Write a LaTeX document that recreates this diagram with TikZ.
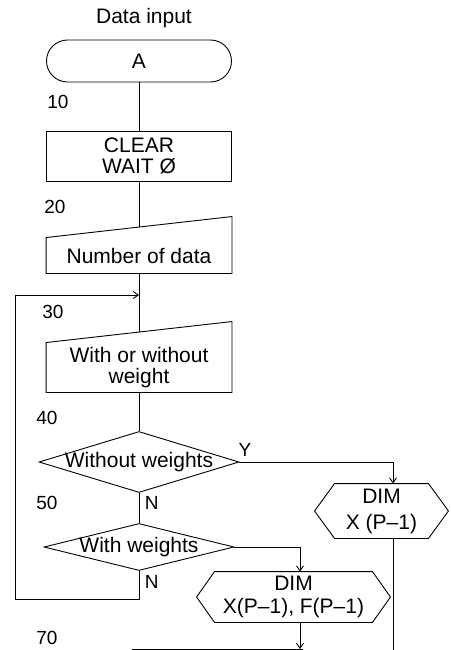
\documentclass[tikz,border=0pt]{standalone}
\usepackage{fontspec}
\setmainfont{Liberation Sans}
\usetikzlibrary{arrows.meta,positioning,shapes.geometric}

\begin{document}
\begin{tikzpicture}[x=1pt,y=-1pt,
  line width=0.9pt,
  font=\fontsize{21}{21}\selectfont,
  term/.style={draw,rounded corners=21pt,minimum width=185pt,minimum height=42pt,inner sep=0pt},
  proc/.style={draw,align=center,minimum width=185pt,minimum height=50pt,inner sep=0pt},
  manin/.style={align=center,minimum width=185pt,inner sep=0pt},
  dec/.style={draw,diamond,inner sep=0pt},
  hexa/.style={align=center,inner sep=0pt},
  lineno/.style={font=\fontsize{19}{19}\selectfont},
  >={Straight Barb[length=5pt,width=7pt]}]
  \useasboundingbox (0,0) rectangle (450,650);
  % main column
  \node (title) at (144,18) {Data input};
  \node[term] (start) at (139,61) {A};
  \node[proc] (clr) at (139,156) {CLEAR\\WAIT Ø};
  \node[manin,minimum height=35pt] (num) at (139,255.5) {Number of data};
  \node[manin,minimum height=49pt] (wow) at (139,367.5) {With or without\\weight};
  \node[dec,minimum width=200pt,minimum height=61pt,label=center:Without weights] (wo) at (139,462) {};
  \node[dec,minimum width=190pt,minimum height=47pt,label=center:With weights] (ww) at (139,547) {};
  % DIM branches
  \node[hexa,minimum width=133pt,minimum height=54pt] (d1) at (381.5,511) {DIM\\[5pt]X (P--1)};
  \node[hexa,minimum width=193pt,minimum height=50pt] (d2) at (293.5,597) {DIM\\[2pt]X(P--1), F(P--1)};
  \node[proc,minimum width=170pt,minimum height=40pt,anchor=north] (next) at (217,649) {};
  \foreach \m in {num,wow}
    \draw (\m.south west) -- (\m.south east) -- ([yshift=21pt]\m.north east) -- (\m.north west) -- cycle;
  \foreach \h/\c in {d1/20pt,d2/18pt}
    \draw (\h.west) -- ([xshift=\c]\h.north west) -- ([xshift=-\c]\h.north east) -- (\h.east)
      -- ([xshift=-\c]\h.south east) -- ([xshift=\c]\h.south west) -- cycle;
  % line numbers
  \node[lineno] (n10) at (58,102) {10};
  \node[lineno] (n20) at (55,207) {20};
  \node[lineno] (n30) at (53,312) {30};
  \node[lineno] (n40) at (47,418) {40};
  \node[lineno] (n50) at (47,503) {50};
  \node[lineno] (n70) at (47,638) {70};
  \node[lineno] (yes) at (245,450) {Y};
  \node[lineno,anchor=west] (no1) at (141,503) {N};
  \node[lineno,anchor=west] (no2) at (141,582) {N};
  % connectors
  \coordinate (join) at (139,295);
  \coordinate (loopc) at (15,599);
  \coordinate (d1end) at (393,660);
  \draw (start) -- (clr);
  \draw (clr) -- ([yshift=10.5pt]num.north);
  \draw (num) -- ([yshift=10.5pt]wow.north);
  \draw (wow) -- (wo);
  \draw (wo) -- (ww);
  \draw[->] (wo.east) -| ([xshift=11.5pt]d1.north);
  \draw[->] (ww.east) -| ([xshift=6.5pt]d2.north);
  \draw[->] ([xshift=6.5pt]d2.south) -- ([xshift=6.5pt]d2.south |- next.north);
  \draw ([xshift=11.5pt]d1.south) -- (d1end);
  \draw[->] (ww.south) |- (loopc) |- (join);
\end{tikzpicture}
\end{document}
